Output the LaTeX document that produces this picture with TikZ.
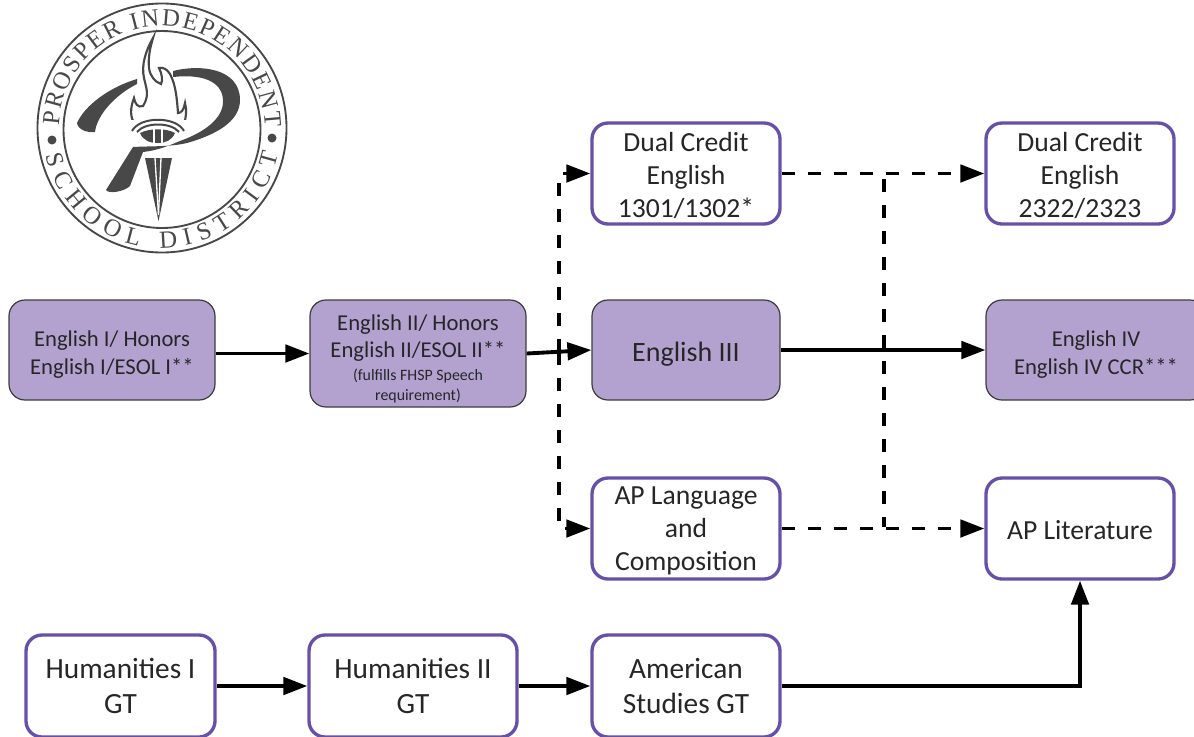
\documentclass[tikz,border=0pt]{standalone}
\usepackage{fontspec}
\setmainfont{Carlito}
\newfontfamily\sealfont{Liberation Serif}
\usetikzlibrary{arrows.meta,decorations.text}
\definecolor{boxpurple}{HTML}{B3A2D0}
\definecolor{linepurple}{HTML}{6850A8}
\definecolor{boxedge}{HTML}{3C3C3C}
\definecolor{sealgray}{HTML}{484848}
\newcommand{\pushdown}[1]{\rule{0pt}{#1}}
\tikzset{
  course/.style={rounded corners=12pt,align=center,inner sep=0pt,text=black!85},
  filledbox/.style={course,draw=boxedge,line width=0.9pt,fill=boxpurple},
  openbox/.style={course,draw=linepurple,line width=2.5pt,fill=white,
    font=\fontsize{22}{26.6}\selectfont},
  upperbox/.style={openbox,font=\fontsize{20.7}{24.8}\selectfont,
    minimum width=141pt,minimum height=75.75pt},
  plainarrow/.style={line width=2.9pt,-{Triangle[length=18pt,width=13pt]}},
  dashline/.style={line width=2.9pt,dash pattern=on 9.75pt off 9.75pt},
  dasharrow/.style={dashline,-{Triangle[length=18pt,width=13pt]}},
  sealline/.style={draw=sealgray,line width=1.4pt},
  sealfill/.style={fill=sealgray,draw=none},
}
\begin{document}
\begin{tikzpicture}[x=0.75pt, y=-0.75pt]
\useasboundingbox (0,0) rectangle (1194,736);
\clip (0,0) rectangle (1194,736);
\draw[sealline] (162,128) circle (124.5);
\draw[sealline] (162,129.5) circle (98.5);
\fill[sealfill] (52,140) circle (4.5);
\fill[sealfill] (272,138) circle (4.5);
\path[decorate,decoration={text along path,text align=fit to path,
  text={|\sealfont\fontsize{18.5}{18.5}\selectfont\color{sealgray}|PROSPER INDEPENDENT}}]
  (162,129) ++(182:103) arc[start angle=182,end angle=359,radius=103];
\path[decorate,decoration={text along path,text align=fit to path,
  text={|\sealfont\fontsize{18.5}{18.5}\selectfont\color{sealgray}|SCHOOL DISTRICT}}]
  (162,129) ++(167:119) arc[start angle=167,end angle=12,radius=119];
\fill[sealfill] (137,79) .. controls (110,87) and (85,105) .. (77,123)
  .. controls (78,130) and (88,133) .. (95,132)
  .. controls (97,115) and (115,95) .. (137,84) -- cycle;
\fill[sealfill] (173,71) .. controls (200,64) and (240,68) .. (240,100)
  .. controls (240,122) and (215,135) .. (187,143)
  .. controls (170,147) and (150,146) .. (133,147)
  -- (106,190) .. controls (108,194) and (124,192) .. (130,186)
  -- (143,152)
  .. controls (160,150) and (170,145) .. (180,141)
  .. controls (205,132) and (224,118) .. (223,100)
  .. controls (222,80) and (200,74) .. (173,77) -- cycle;
\draw[sealline,line width=1.6pt,fill=white] (153,38) .. controls (146,50) and (141,65) .. (144,78)
  .. controls (146,88) and (150,95) .. (143,106)
  .. controls (138,108) and (135,104) .. (134,98)
  .. controls (130,108) and (130,118) .. (135,124)
  -- (184,124) .. controls (186,118) and (187,110) .. (185,103)
  .. controls (184,110) and (181,113) .. (178,113)
  .. controls (177,100) and (176,85) .. (170,74)
  .. controls (167,69) and (163,67) .. (159,68)
  .. controls (162,74) and (163,80) .. (161,84)
  .. controls (155,82) and (150,76) .. (149,68)
  .. controls (148,58) and (150,48) .. (153,38) -- cycle;
\fill[white] (130,120) rectangle (188,134);
\draw[sealline,line width=1.5pt] (132,131) .. controls (140,116) and (176,116) .. (184,131);
\draw[sealline,line width=1.5pt] (137,132) .. controls (145,122) and (171,122) .. (179,132);
\fill[sealfill] (140,133) .. controls (150,128) and (166,128) .. (175,133)
  .. controls (172,140) and (166,143) .. (158,143) .. controls (149,143) and (143,140) .. (140,133) -- cycle;
\fill[white] (152.5,128) rectangle (154.5,144);
\fill[white] (161,128) rectangle (163,144);
\fill[sealfill] (145,158) -- (172,158) -- (158.5,221) -- cycle;
\draw[white,line width=1pt] (155,158) -- (158.5,215);
\draw[white,line width=1pt] (161,158) -- (158.5,215);

\node[filledbox,minimum width=154.5pt,minimum height=75pt,font=\fontsize{17}{21}\selectfont] (engOne) at (112,350) {\pushdown{18.4pt}English I/ Honors\\English I/ESOL I**};
\node[filledbox,minimum width=162pt,minimum height=80.25pt,font=\fontsize{17}{20.3}\selectfont] (engTwo) at (418,353.5) {\pushdown{20pt}English II/ Honors\\English II/ESOL II**\\[-3pt]{\fontsize{11.9}{15}\selectfont (fulfills FHSP Speech}\\[-5pt]{\fontsize{11.9}{15}\selectfont requirement)}};
\node[filledbox,minimum width=141pt,minimum height=75pt,font=\fontsize{21}{24.8}\selectfont] (engThree) at (686,350) {\pushdown{20.1pt}English III};
\node[filledbox,minimum width=165pt,minimum height=75pt,font=\fontsize{17}{21}\selectfont] (engFour) at (1096,350) {\pushdown{18.4pt}English IV\\English IV CCR***};
\node[upperbox] (dualOne) at (686,173.5) {\pushdown{17pt}Dual Credit\\English\\1301/1302*};
\node[upperbox] (dualTwo) at (1080,173.5) {\pushdown{17pt}Dual Credit\\English\\2322/2323};
\node[upperbox] (apLang) at (686,528.5) {\pushdown{17pt}AP Language\\and\\Composition};
\node[upperbox] (apLit) at (1080,528.5) {\pushdown{16.7pt}AP Literature};
\node[openbox,minimum width=141.75pt,minimum height=76.5pt] (humOne) at (120.5,686) {Humanities I\\GT};
\node[openbox,minimum width=156pt,minimum height=76.5pt] (humTwo) at (413,686) {Humanities II\\GT};
\node[openbox,minimum width=141pt,minimum height=76.5pt] (amStudies) at (686,686) {American\\Studies GT};

\coordinate (splitLeft) at (559,352);
\coordinate (turnTop) at (884,179);
\coordinate (turnBottom) at (884,527);

\draw[plainarrow] (engTwo.west -| engOne.east) -- (engTwo.west);
\draw[plainarrow] (engTwo.east) -- (engThree.west);
\draw[plainarrow] (engThree.east) -- (engFour.west);
\draw[plainarrow] (humOne.east) -- (humTwo.west);
\draw[plainarrow] (humTwo.east) -- (amStudies.west);
\draw[plainarrow] (amStudies.east) -| (apLit.south);
\draw[dasharrow] (splitLeft) |- (dualOne.west);
\draw[dasharrow] (splitLeft) |- (apLang.west);
\draw[dasharrow] (dualOne.east) -- (dualTwo.west);
\draw[dasharrow] (apLang.east) -- (apLit.west);
\draw[dashline] (turnTop) -- (turnBottom);
\end{tikzpicture}
\end{document}
